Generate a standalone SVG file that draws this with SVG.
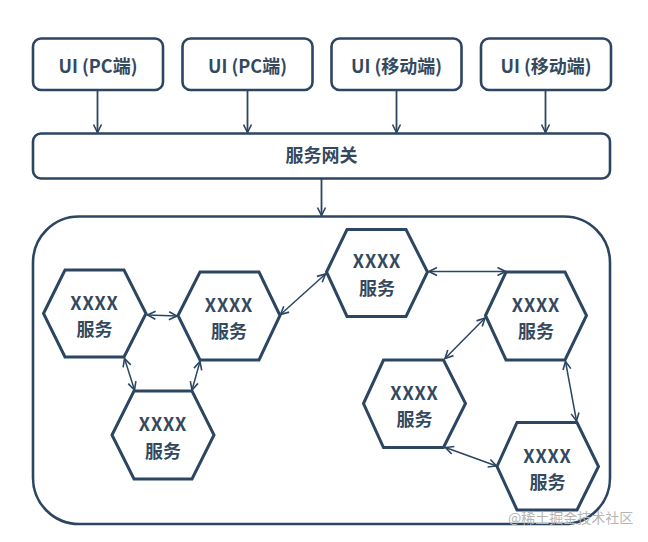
<svg xmlns="http://www.w3.org/2000/svg" width="648" height="542" viewBox="0 0 648 542">
  <defs>
    <marker id="arr" viewBox="0 0 10 10" refX="9" refY="5" markerWidth="10" markerHeight="10" markerUnits="userSpaceOnUse" orient="auto-start-reverse">
      <path d="M1,1 L9,5 L1,9" fill="none" stroke="#2c4662" stroke-width="1.6" stroke-linejoin="miter"/>
    </marker>
  </defs>
  <style>
    .box { fill: #ffffff; stroke: #2c4662; stroke-width: 2.6; }
    .hex { fill: #ffffff; stroke: #2c4662; stroke-width: 3; stroke-linejoin: miter; }
    .t { font-family: "Noto Sans CJK SC", "Liberation Sans", sans-serif; font-weight: bold; fill: #34495e; text-anchor: middle; }
    .ui { font-size: 18px; }
    .ht { font-size: 18px; }
    .xx { letter-spacing: 0.8px; }
    .ln { fill: none; stroke: #2c4662; stroke-width: 1.8; marker-end: url(#arr); }
    .dl { fill: none; stroke: #2c4662; stroke-width: 1.5; marker-start: url(#arr); marker-end: url(#arr); }
    .wm { font-family: "Noto Sans CJK SC", sans-serif; font-size: 14px; fill: #b5b5b5; }
  </style>

  <rect width="648" height="542" fill="#ffffff"/>

  <g id="ui1"><rect class="box" x="33" y="38.5" width="130" height="51.5" rx="8"/><text class="t ui" x="98" y="72.5">UI (PC端)</text></g>
  <g id="ui2"><rect class="box" x="182.5" y="38.5" width="130" height="51.5" rx="8"/><text class="t ui" x="247.5" y="72.5">UI (PC端)</text></g>
  <g id="ui3"><rect class="box" x="331.5" y="38.5" width="130" height="51.5" rx="8"/><text class="t ui" x="396.5" y="72.5">UI (移动端)</text></g>
  <g id="ui4"><rect class="box" x="481" y="38.5" width="130" height="51.5" rx="8"/><text class="t ui" x="546" y="72.5">UI (移动端)</text></g>

  <g id="gateway"><rect class="box" x="33" y="133.5" width="577" height="45" rx="8"/><text class="t ui" x="321.5" y="162">服务网关</text></g>

  <g id="cluster"><rect class="box" x="33" y="216.5" width="577" height="307.5" rx="46" stroke-width="3"/></g>

  <g id="svc1"><polygon class="hex" points="43.5,313.5 65,270 124,270 146,313.5 124,357 65,357"/><text class="t ht xx" x="94.5" y="309.5">XXXX</text><text class="t ht" x="94.5" y="336">服务</text></g>
  <g id="svc2"><polygon class="hex" points="178,315.5 200,272 259,272 280,315.5 259,360 200,360"/><text class="t ht xx" x="229" y="311.5">XXXX</text><text class="t ht" x="229" y="338">服务</text></g>
  <g id="svc3"><polygon class="hex" points="112,435 134,391 192,391 214,435 192,479 134,479"/><text class="t ht xx" x="163" y="431">XXXX</text><text class="t ht" x="163" y="457.5">服务</text></g>
  <g id="svc4"><polygon class="hex" points="326.5,272 347,229.5 406,229.5 427.5,272 406,316.5 347,316.5"/><text class="t ht xx" x="377" y="268">XXXX</text><text class="t ht" x="377" y="294.5">服务</text></g>
  <g id="svc5"><polygon class="hex" points="485.5,315.5 506,272 565,272 586.5,315.5 565,360 506,360"/><text class="t ht xx" x="536" y="311.5">XXXX</text><text class="t ht" x="536" y="338">服务</text></g>
  <g id="svc6"><polygon class="hex" points="363.5,403.5 383.5,360 443.5,360 465.5,403.5 443.5,447.5 383.5,447.5"/><text class="t ht xx" x="414.5" y="399.5">XXXX</text><text class="t ht" x="414.5" y="426">服务</text></g>
  <g id="svc7"><polygon class="hex" points="497,466.5 517,422.5 577,422.5 598.5,466.5 577,510 517,510"/><text class="t ht xx" x="547.5" y="462.5">XXXX</text><text class="t ht" x="547.5" y="489">服务</text></g>

  <g id="connectors">
    <line class="ln" x1="97.5" y1="90" x2="97.5" y2="132.5"/>
    <line class="ln" x1="247.5" y1="90" x2="247.5" y2="132.5"/>
    <line class="ln" x1="396.5" y1="90" x2="396.5" y2="132.5"/>
    <line class="ln" x1="545.5" y1="90" x2="545.5" y2="132.5"/>
    <line class="ln" x1="321.5" y1="178.5" x2="321.5" y2="215.5"/>

    <line class="dl" x1="147.5" y1="315" x2="177" y2="316"/>
    <line class="dl" x1="124.5" y1="358.5" x2="134.5" y2="390"/>
    <line class="dl" x1="200" y1="361.5" x2="192" y2="390"/>
    <line class="dl" x1="280.5" y1="314.5" x2="325.5" y2="274"/>
    <line class="dl" x1="429" y1="271.5" x2="505.5" y2="271.5"/>
    <line class="dl" x1="485" y1="318" x2="445" y2="358.5"/>
    <line class="dl" x1="565.5" y1="361.5" x2="576.5" y2="421"/>
    <line class="dl" x1="445.5" y1="447.5" x2="496.5" y2="466"/>
  </g>

  <text class="wm" x="508" y="523">@稀土掘金技术社区</text>
</svg>
